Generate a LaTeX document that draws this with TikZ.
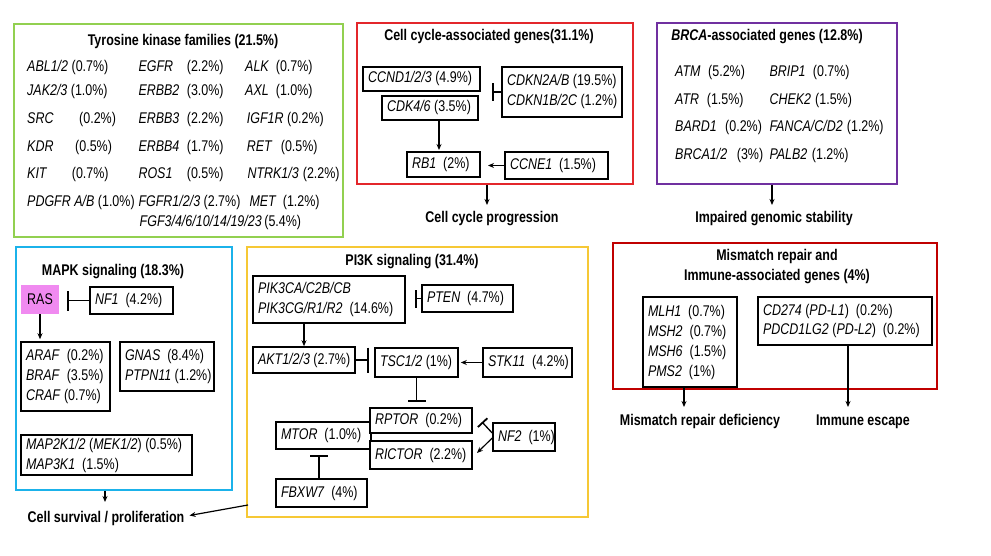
\documentclass[tikz,border=0pt]{standalone}
\usepackage{fontspec}
\setmainfont{Liberation Sans}[FakeStretch=0.805]
\usetikzlibrary{arrows.meta}
\definecolor{tkgreen}{HTML}{92D050}
\definecolor{ccred}{HTML}{E3262B}
\definecolor{brpurple}{HTML}{7030A0}
\definecolor{mkcyan}{HTML}{1BB2EA}
\definecolor{pigold}{HTML}{F6C835}
\definecolor{mmred}{HTML}{C00000}
\definecolor{raspink}{HTML}{F08AF0}
\newcommand{\gn}[1]{\textit{#1}}
\newcommand{\gbox}[6]{%
  \pgfmathsetmacro\myBW{#4-#2}\pgfmathsetmacro\myBH{#5-#3}\pgfmathsetmacro\myTW{#4-#2-10}%
  \node[gb, minimum width=\myBW pt, minimum height=\myBH pt] (#1) at ({(#2+#4)/2},{(#3+#5)/2})
    {\makebox[\myTW pt][l]{\begin{tabular}{@{}l@{}}#6\end{tabular}}};}
\newcommand{\frm}[6]{%
  \pgfmathsetmacro\myBW{#4-#2}\pgfmathsetmacro\myBH{#5-#3}%
  \node[frame, draw=#6, minimum width=\myBW pt, minimum height=\myBH pt] (#1) at ({(#2+#4)/2},{(#3+#5)/2}) {};}
\newcommand{\tkone}[4]{\node[tx] (#1) at (#2,#3) {#4};}
\newcommand{\tktwo}[6]{\node[tx] (#1g) at (#2,#4) {\gn{#5}}; \node[tx] (#1p) at (#3,#4) {#6};}
\begin{document}
\begin{tikzpicture}[x=1pt,y=-1pt,
  font=\fontsize{15.5}{20}\selectfont,
  gb/.style={draw, line width=1.6pt, fill=white, inner sep=0pt},
  frame/.style={draw, line width=1.8pt, inner sep=0pt},
  tx/.style={inner sep=0pt, anchor=base west},
  ttl/.style={inner sep=0pt, anchor=base, font=\fontsize{15.5}{20}\selectfont\bfseries},
  arr/.style={-{Stealth[length=6pt,width=5pt]}, line width=1.2pt},
  inh/.style={-{Bar[width=#1,line width=1.8pt]}, line width=1.3pt},
  inh/.default=18pt]
\useasboundingbox (0,0) rectangle (991,556);
\fill[white] (0,0) rectangle (991,556);

% ---------------- Tyrosine kinase families
\frm{tkbox}{14}{24}{343}{237}{tkgreen}
\node[ttl] (tkttl) at (183,45.5) {Tyrosine kinase families (21.5\%)};
\tkone{abl}{27}{72}{\gn{ABL1/2} (0.7\%)}
\tkone{jak}{27}{96}{\gn{JAK2/3} (1.0\%)}
\tktwo{src}{27}{79}{124}{SRC}{(0.2\%)}
\tktwo{kdr}{27}{75}{152}{KDR}{(0.5\%)}
\tktwo{kit}{27}{71.7}{179}{KIT}{(0.7\%)}
\tkone{pdg}{27}{207}{\gn{PDGFR A/B} (1.0\%)}
\tktwo{egfr}{138.3}{186.7}{72}{EGFR}{(2.2\%)}
\tktwo{erbbb}{138.3}{186.7}{96}{ERBB2}{(3.0\%)}
\tktwo{erbbc}{138.3}{186.7}{124}{ERBB3}{(2.2\%)}
\tktwo{erbbd}{138.3}{186.7}{152}{ERBB4}{(1.7\%)}
\tktwo{ros}{138.3}{186.7}{179}{ROS1}{(0.5\%)}
\tkone{fgfr}{138.3}{207}{\gn{FGFR1/2/3} (2.7\%)}
\tkone{fgf}{139.5}{227}{\gn{FGF3/4/6/10/14/19/23}\,(5.4\%)}
\tktwo{alk}{245}{275.7}{72}{ALK}{(0.7\%)}
\tktwo{axl}{245}{275.7}{96}{AXL}{(1.0\%)}
\tkone{igf}{246.7}{124}{\gn{IGF1R} (0.2\%)}
\tktwo{ret}{246.7}{280.7}{152}{RET}{(0.5\%)}
\tktwo{ntrk}{247.3}{302.7}{179}{NTRK1/3}{(2.2\%)}
\tktwo{met}{249.3}{282.7}{207}{MET}{(1.2\%)}

% ---------------- Cell cycle
\frm{ccbox}{357}{23}{633}{184}{ccred}
\node[ttl] (ccttl) at (489,40.5) {Cell cycle-associated genes(31.1\%)};
\gbox{ccnd}{363}{67}{480}{91}{\gn{CCND1/2/3} (4.9\%)}
\gbox{cdk}{382}{96}{478}{120}{\gn{CDK4/6} (3.5\%)}
\gbox{cdkn}{502}{67}{622}{117}{\gn{CDKN2A/B} (19.5\%)\\\gn{CDKN1B/2C} (1.2\%)}
\gbox{rb}{407}{152}{480}{177}{\gn{RB1}\ \ (2\%)}
\gbox{ccne}{505}{152}{608}{179}{\gn{CCNE1}\ \ (1.5\%)}
\coordinate (cdknbar) at (492,92);
\draw[inh] (cdkn.west) -- (cdkn.west -| cdknbar);
\coordinate (ccnetip) at (488,166);
\draw[arr] (ccne.west) -- (ccne.west -| ccnetip);
\coordinate (cdkx) at (439,150);
\draw[arr] (cdkx |- cdk.south) -- (cdkx);
\node[ttl] (ccp) at (492,222.5) {Cell cycle progression};
\coordinate (ccx) at (487,205);
\draw[arr] (ccx |- ccbox.south) -- (ccx);

% ---------------- BRCA
\frm{brbox}{657}{23}{897}{184}{brpurple}
\node[ttl] (brttl) at (767,40.5) {\textit{BRCA}-associated genes (12.8\%)};
\tktwo{atm}{675}{708}{76.7}{ATM}{(5.2\%)}
\tktwo{atr}{675}{706.7}{104.3}{ATR}{(1.5\%)}
\tktwo{bard}{675}{725}{131.7}{BARD1}{(0.2\%)}
\tktwo{brca}{675}{736.7}{160}{BRCA1/2}{(3\%)}
\tktwo{brip}{769.3}{812.7}{76.7}{BRIP1}{(0.7\%)}
\tktwo{chek}{769.3}{815}{104.3}{CHEK2}{(1.5\%)}
\tktwo{fanc}{769.3}{846.7}{131.7}{FANCA/C/D2}{(1.2\%)}
\tktwo{palb}{769.3}{811.7}{160}{PALB2}{(1.2\%)}
\node[ttl] (igs) at (774,222.5) {Impaired genomic stability};
\coordinate (brx) at (772,205);
\draw[arr] (brx |- brbox.south) -- (brx);

% ---------------- MAPK
\frm{mapkbox}{16}{247}{232}{490}{mkcyan}
\node[ttl] (mapkttl) at (113,275.5) {MAPK signaling (18.3\%)};
\node[fill=raspink, minimum width=38pt, minimum height=29pt, inner sep=0pt] (ras) at (40,299.5) {RAS};
\gbox{nf1}{90}{287}{173}{314}{\gn{NF1}\ \ (4.2\%)}
\coordinate (nf1bar) at (67,300);
\draw[inh=20pt] (nf1.west) -- (nf1.west -| nf1bar);
\gbox{araf}{21}{342}{110}{411}{\gn{ARAF}\ \ (0.2\%)\\\gn{BRAF}\ \ (3.5\%)\\\gn{CRAF} (0.7\%)}
\gbox{gnas}{120}{342}{214}{391}{\gn{GNAS}\ \ (8.4\%)\\\gn{PTPN11}\ (1.2\%)}
\gbox{map}{21}{435}{192}{475}{\gn{MAP2K1/2} (\gn{MEK1/2}) (0.5\%)\\\gn{MAP3K1}\ \ (1.5\%)}
\draw[arr, shorten >=2pt] (ras.south) -- (ras.south |- araf.north);
\node[ttl] (csp) at (106,522.5) {Cell survival / proliferation};
\coordinate (csx) at (105,502);
\draw[arr] (csx |- mapkbox.south) -- (csx);

% ---------------- PI3K
\frm{pibox}{247}{247}{588}{517}{pigold}
\node[ttl] (pittl) at (412,265.5) {PI3K signaling (31.4\%)};
\gbox{pik}{253}{276}{405}{323}{\gn{PIK3CA/C2B/CB}\\\gn{PIK3CG/R1/R2}\ \ (14.6\%)}
\gbox{pten}{422}{285}{513}{312}{\gn{PTEN}\ \ (4.7\%)}
\coordinate (ptenbar) at (415,298);
\draw[inh] (pten.west) -- (pten.west -| ptenbar);
\gbox{akt}{253}{347}{355}{373}{\gn{AKT1/2/3} (2.7\%)}
\gbox{tsc}{375}{348}{458}{377}{\gn{TSC1/2} (1\%)}
\gbox{stk}{483}{348}{572}{377}{\gn{STK11}\ \ (4.2\%)}
\draw[arr] (akt.north |- pik.south) -- (akt.north);
\coordinate (aktbar) at (369,360);
\draw[inh=25pt] (akt.east) -- (akt.east -| aktbar);
\draw[arr, shorten >=2pt] (stk.west) -- (tsc.east);
\gbox{mtor}{276}{422}{371}{449}{\gn{MTOR}\ \ (1.0\%)}
\gbox{rptor}{370}{408}{472}{433}{\gn{RPTOR}\ \ (0.2\%)}
\gbox{rictor}{370}{441}{472}{469}{\gn{RICTOR}\ \ (2.2\%)}
\gbox{nf2}{493}{423}{555}{451}{\gn{NF2}\ \ (1\%)}
\gbox{fbx}{276}{479}{367}{507}{\gn{FBXW7}\ \ (4\%)}
\coordinate (tscbar) at (416,402);
\draw[inh] (tsc.south) -- (tsc.south |- tscbar);
\coordinate (nf2bar) at (482,422);
\draw[inh=13pt] ([yshift=4pt]nf2.west) -- (nf2bar);
\coordinate (nf2tip) at (477,453);
\draw[arr] ([yshift=-1pt]nf2.west) -- (nf2tip);
\coordinate (fbxbar) at (319,455);
\draw[inh] (fbxbar |- fbx.north) -- (fbxbar);
\coordinate (pis) at (248,505);
\draw[arr] (pis) -- ([xshift=5pt,yshift=3pt]csp.east);

% ---------------- Mismatch repair
\frm{mmbox}{613}{243}{937}{389}{mmred}
\node[ttl] (mmttla) at (777,260.5) {Mismatch repair and};
\node[ttl] (mmttlb) at (777,280.5) {Immune-associated genes (4\%)};
\gbox{mlh}{643}{297}{737}{387}{\gn{MLH1}\ \ (0.7\%)\\\gn{MSH2}\ \ (0.7\%)\\\gn{MSH6}\ \ (1.5\%)\\\gn{PMS2}\ \ (1\%)}
\gbox{cd}{758}{297}{932}{345}{\gn{CD274} (\gn{PD-L1})\ \ (0.2\%)\\\gn{PDCD1LG2} (\gn{PD-L2})\ \ (0.2\%)}
\node[ttl] (mrd) at (700,425.5) {Mismatch repair deficiency};
\node[ttl] (ies) at (863,425.5) {Immune escape};
\coordinate (mmrx) at (684,407);
\draw[arr] (mmrx |- mlh.south) -- (mmrx);
\coordinate (imx) at (848,407);
\draw[arr] (imx |- cd.south) -- (imx);
\end{tikzpicture}
\end{document}
